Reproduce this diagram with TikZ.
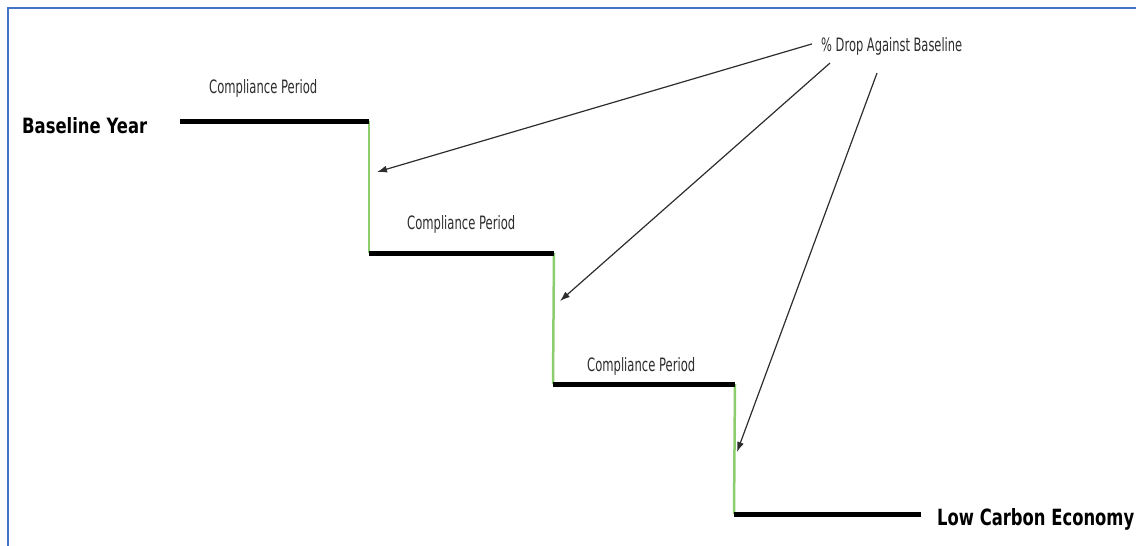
\documentclass[tikz,border=0pt]{standalone}
\usepackage{fontspec}
\setmainfont{DejaVu Sans}
\usetikzlibrary{arrows.meta,calc}
\definecolor{frameblue}{RGB}{68,114,196}
\definecolor{risergreen}{RGB}{140,205,110}
\definecolor{labelgray}{RGB}{45,45,45}
% squeeze a label into a given width and height
\newcommand{\fitlabel}[3]{\resizebox{#1}{#2}{#3}}

\begin{document}
\begin{tikzpicture}[x=1pt,y=-1pt,
  tread/.style={line width=5pt, black},
  riser/.style={line width=2.5pt, risergreen},
  pointer/.style={line width=1.2pt, labelgray, -{Latex[length=10pt,width=7pt]}},
  lbl/.style={inner sep=0pt, anchor=base west},
]
\useasboundingbox (0,0) rectangle (1136,546);
\draw[frameblue, line width=2.5pt] (8,8) rectangle (1150,560);

% staircase corners
\coordinate (s1a) at (180,121);
\coordinate (s1b) at (369,121);
\coordinate (s2a) at (369,253);
\coordinate (s2b) at (554,253);
\coordinate (s3a) at (553,384);
\coordinate (s3b) at (735,384);
\coordinate (s4a) at (734,514);
\coordinate (s4b) at (921,514);

% risers (green) under the treads (black)
\draw[riser] (s1b) -- (s2a);
\draw[riser] (s2b |- s2a) -- (s3a);
\draw[riser] (s3b |- s3a) -- (s4a);
\draw[tread] (s1a) -- (s1b);
\draw[tread] (s2a) -- (s2b);
\draw[tread] (s3a) -- (s3b);
\draw[tread] (s4a) -- (s4b);

% labels
\node[lbl] (base) at (22,133) {\fitlabel{125pt}{16pt}{\bfseries Baseline Year}};
\node[lbl] (lowc) at (937,525) {\fitlabel{197pt}{17pt}{\bfseries Low Carbon Economy}};
\node[lbl, text=labelgray] (cp1) at (209,93) {\fitlabel{108pt}{14pt}{Compliance Period}};
\node[lbl, text=labelgray] (cp2) at (407,229) {\fitlabel{108pt}{14pt}{Compliance Period}};
\node[lbl, text=labelgray] (cp3) at (587,371) {\fitlabel{108pt}{14pt}{Compliance Period}};
\node[lbl, text=labelgray] (drop) at (821,51) {\fitlabel{141pt}{14pt}{\% Drop Against Baseline}};

% where the pointers land on the risers
\coordinate (hit1) at (377,172);
\coordinate (hit2) at (560,301);
\coordinate (hit3) at (737,452);

\draw[pointer] ($(drop.west)+(-9,-2)$) -- (hit1);
\draw[pointer] ($(drop.south west)+(9,8)$) -- (hit2);
\draw[pointer] ($(drop.south west)+(56,18)$) -- (hit3);
\end{tikzpicture}
\end{document}
